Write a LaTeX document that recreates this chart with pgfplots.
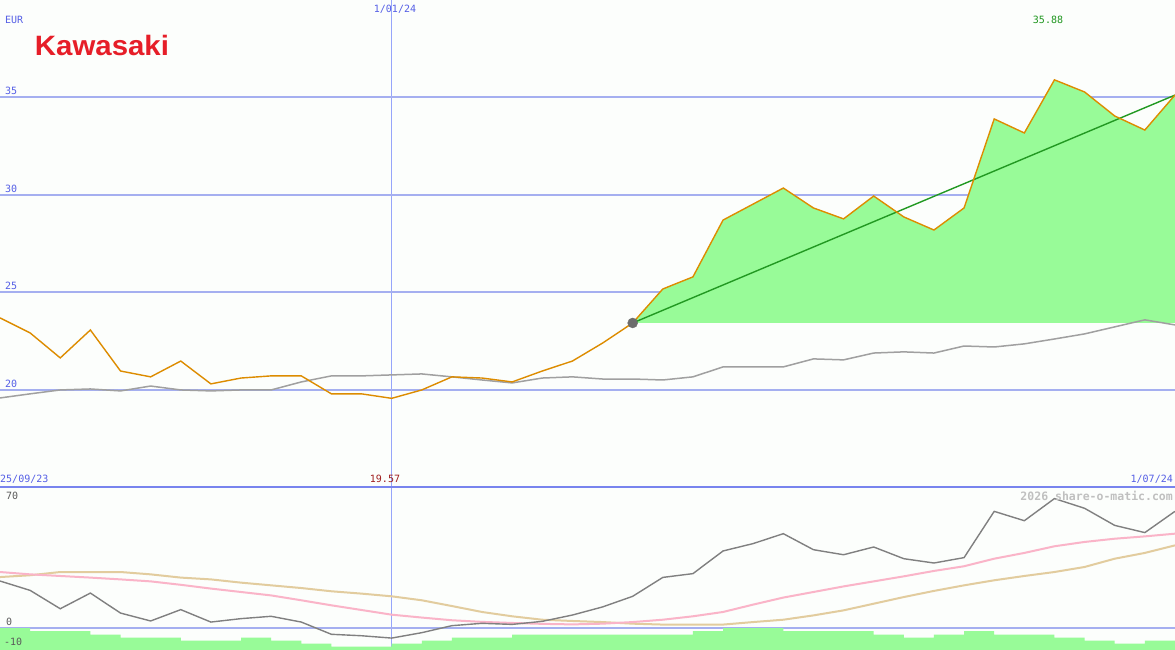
\documentclass[border=0pt]{standalone}
\usepackage{fontspec}
\setmainfont{DejaVu Sans Mono}
\newfontfamily\logofont{Liberation Sans}
\usepackage{pgfplots}
\usepackage{pgfplotstable}
\pgfplotsset{compat=1.18}

\definecolor{bgcol}{RGB}{252,254,252}
\definecolor{pricecol}{RGB}{221,140,0}
\definecolor{fillgreen}{RGB}{152,251,152}
\definecolor{trendcol}{RGB}{34,153,34}
\definecolor{macol}{RGB}{160,160,160}
\definecolor{osccol}{RGB}{128,128,128}
\definecolor{pinkcol}{RGB}{250,180,200}
\definecolor{tancol}{RGB}{226,204,158}
\definecolor{labblue}{RGB}{85,95,230}
\definecolor{gridh}{RGB}{165,175,240}
\definecolor{gridv}{RGB}{150,165,250}
\definecolor{sepcol}{RGB}{120,132,238}
\definecolor{mincol}{RGB}{160,30,30}
\definecolor{maxcol}{RGB}{30,150,30}
\definecolor{wmcol}{RGB}{192,192,192}
\definecolor{labgray}{RGB}{90,90,90}
\definecolor{kred}{RGB}{230,30,40}

% weekly closes (EUR) and moving average
\pgfplotstableread{
w  price  ma
0  23.69  19.59
1  22.92  19.80
2  21.64  20.00
3  23.07  20.05
4  20.97  19.95
5  20.67  20.20
6  21.48  20.00
7  20.31  19.95
8  20.61  20.00
9  20.72  20.00
10 20.72  20.41
11 19.80  20.72
12 19.80  20.72
13 19.57  20.77
14 20.00  20.82
15 20.67  20.67
16 20.61  20.51
17 20.41  20.36
18 20.97  20.61
19 21.48  20.67
20 22.40  20.56
21 23.43  20.56
22 25.17  20.51
23 25.79  20.67
24 28.70  21.18
25 29.52  21.18
26 30.34  21.18
27 29.32  21.59
28 28.76  21.54
29 29.93  21.89
30 28.86  21.95
31 28.19  21.89
32 29.32  22.25
33 33.88  22.20
34 33.16  22.36
35 35.88  22.61
36 35.26  22.87
37 34.03  23.23
38 33.31  23.59
39 35.10  23.33
}\toptable

% lower panel: oscillator and its two averages
\pgfplotstableread{
w  osc   pink  tan
0  26.1  31.1  28.3
1  20.9  29.8  29.3
2  10.7  28.9  31.1
3  19.4  28.0  31.1
4   8.3  27.0  31.1
5   3.9  25.9  29.8
6  10.2  24.0  28.0
7   3.3  21.9  27.0
8   5.2  20.0  25.2
9   6.5  18.1  23.7
10  3.3  15.4  22.2
11 -3.5  12.6  20.4
12 -4.3  10.0  19.1
13 -5.6   7.4  17.6
14 -2.6   5.8  15.4
15  1.3   4.3  12.2
16  2.6   3.4   8.9
17  2.0   2.8   6.5
18  3.7   2.3   4.6
19  7.2   2.0   3.9
20 11.7   2.4   3.3
21 17.6   3.3   2.4
22 28.1   4.6   1.9
23 30.2   6.5   1.9
24 42.8   8.9   1.9
25 46.9  13.0   3.3
26 52.4  16.9   4.6
27 43.5  20.0   7.0
28 40.7  23.1   9.8
29 45.0  25.9  13.5
30 38.5  28.7  17.2
31 36.1  31.7  20.6
32 39.1  34.3  23.7
33 64.8  38.5  26.5
34 59.6  41.7  28.9
35 71.9  45.4  31.1
36 66.5  47.8  33.9
37 57.0  49.6  38.5
38 53.0  50.9  41.7
39 64.8  52.4  45.9
}\bottable

\begin{document}
\begin{tikzpicture}
\useasboundingbox (0pt,0pt) rectangle (1175pt,650pt);
\fill[bgcol] (0pt,0pt) rectangle (1175pt,650pt);

% ---- price panel
\begin{axis}[
    at={(0pt,163pt)}, anchor=south west,
    scale only axis, width=1175pt, height=487pt,
    xmin=0, xmax=39, ymin=15.03, ymax=39.97,
    axis line style={draw=none}, major tick length=0pt,
    xtick={13}, ytick={20,25,30,35},
    xticklabels={}, yticklabels={},
    xmajorgrids, ymajorgrids,
    x grid style={gridv, line width=1pt},
    y grid style={gridh, line width=1.7pt},
]
\addplot[fill=fillgreen, draw=none] coordinates {
    (21,23.43) (22,25.17) (23,25.79) (24,28.70) (25,29.52) (26,30.34)
    (27,29.32) (28,28.76) (29,29.93) (30,28.86) (31,28.19) (32,29.32)
    (33,33.88) (34,33.16) (35,35.88) (36,35.26) (37,34.03) (38,33.31)
    (39,35.10) (39,23.43)} -- cycle;
\addplot[macol, line width=1.5pt] table[x=w, y=ma] {\toptable};
\addplot[only marks, mark=*, mark size=5pt, color=gray!85!black] coordinates {(21,23.43)};
\addplot[trendcol, line width=1.4pt] coordinates {(21,23.43) (39,35.10)};
\addplot[pricecol, line width=1.4pt] table[x=w, y=price] {\toptable};
\end{axis}

% ---- oscillator panel
\begin{axis}[
    at={(0pt,0pt)}, anchor=south west,
    scale only axis, width=1175pt, height=163pt,
    xmin=0, xmax=39, ymin=-12.22, ymax=78.33,
    axis line style={draw=none}, major tick length=0pt,
    xtick={13}, ytick={0},
    xticklabels={}, yticklabels={},
    xmajorgrids, ymajorgrids,
    x grid style={gridv, line width=1pt},
    y grid style={gridh, line width=2pt},
]
\addplot[const plot mark left, fill=fillgreen, draw=none] coordinates {
    (0,-13) (0,0) (1,-1.7) (2,-1.7) (3,-3.7) (4,-5.4) (5,-5.4) (6,-7.0)
    (7,-7.0) (8,-5.4) (9,-7.0) (10,-8.7) (11,-10.4) (12,-10.4) (13,-8.7)
    (14,-7.0) (15,-5.4) (16,-5.4) (17,-3.7) (18,-3.7) (19,-3.7) (20,-3.7)
    (21,-3.7) (22,-3.7) (23,-1.7) (24,0) (25,0) (26,-1.7) (27,-1.7)
    (28,-1.7) (29,-3.7) (30,-5.4) (31,-3.7) (32,-1.7) (33,-3.7) (34,-3.7)
    (35,-5.4) (36,-7.0) (37,-8.7) (38,-7.0) (39,-7.0) (39,-13)} -- cycle;
\addplot[tancol, line width=2pt] table[x=w, y=tan] {\bottable};
\addplot[pinkcol, line width=2pt] table[x=w, y=pink] {\bottable};
\addplot[osccol, line width=1.4pt] table[x=w, y=osc] {\bottable};
\draw[sepcol, line width=2pt] (rel axis cs:0,1) -- (rel axis cs:1,1);
\end{axis}

% ---- texts
\begin{scope}[every node/.style={inner sep=0pt, font=\fontsize{10}{12}\selectfont}]
\node[anchor=west, text=labblue] at (5pt,630pt) {EUR};
\node[anchor=west, text=labblue] at (5pt,559pt) {35};
\node[anchor=west, text=labblue] at (5pt,461pt) {30};
\node[anchor=west, text=labblue] at (5pt,364pt) {25};
\node[anchor=west, text=labblue] at (5pt,266pt) {20};
\node[text=labblue] at (395pt,641pt) {1/01/24};
\node[text=maxcol] at (1048pt,630pt) {35.88};
\node[anchor=west, text=labblue] at (0pt,171pt) {25/09/23};
\node[text=mincol] at (385pt,171pt) {19.57};
\node[anchor=east, text=labblue] at (1173pt,171pt) {1/07/24};
\node[anchor=west, text=labgray] at (6pt,154pt) {70};
\node[anchor=west, text=labgray] at (6pt,28pt) {0};
\node[anchor=west, text=labgray] at (4pt,8pt) {-10};
\node[anchor=east, text=wmcol, font=\fontsize{11.5}{12}\selectfont\bfseries] at (1173pt,154pt) {2026 share-o-matic.com};
\node[text=kred, font=\logofont\bfseries\fontsize{28}{28}\selectfont, xscale=1.05] at (102pt,604pt) {Kawasaki};
\end{scope}
\end{tikzpicture}
\end{document}
